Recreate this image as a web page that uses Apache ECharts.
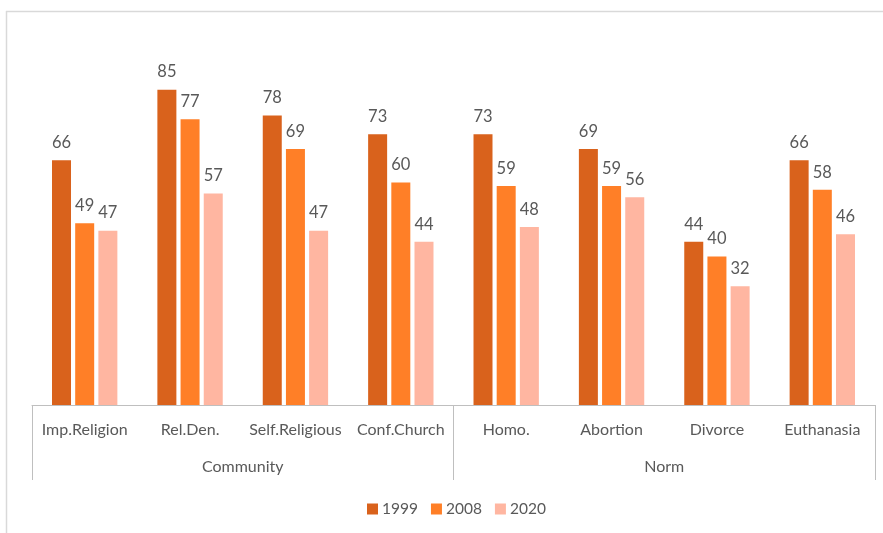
<!DOCTYPE html>
<html>
<head>
<meta charset="utf-8">
<script src="https://cdn.jsdelivr.net/npm/echarts@6/dist/echarts.min.js"></script>
<style>
  html, body { margin: 0; padding: 0; background: #fff; }
  #chart { width: 883px; height: 533px; }
</style>
</head>
<body>
<div id="chart"></div>
<script>
// Item labels (inner axis level) and their groups (outer axis level)
const categories = ['Imp.Religion', 'Rel.Den.', 'Self.Religious', 'Conf.Church', 'Homo.', 'Abortion', 'Divorce', 'Euthanasia'];
const groups = ['Community', 'Norm'];

// Percentages by survey year
const years = ['1999', '2008', '2020'];
const values1999 = [66, 85, 78, 73, 73, 69, 44, 66];
const values2008 = [49, 77, 69, 60, 59, 59, 40, 58];
const values2020 = [47, 57, 47, 44, 48, 56, 32, 46];

const colors = ['#D9621C', '#FF7F27', '#FFB6A1'];
const textColor = '#595959';
const fontFamily = 'Lato, "Open Sans", sans-serif';

const chart = echarts.init(document.getElementById('chart'), null, { renderer: 'canvas' });

const seriesData = [values1999, values2008, values2020];

chart.setOption({
  animation: false,
  grid: { left: 32, right: 8, top: 34, bottom: 128, containLabel: false },
  graphic: [
    { type: 'line', shape: { x1: 6, y1: 11.5, x2: 883, y2: 11.5 }, style: { stroke: '#d9d9d9', lineWidth: 1.5 } },
    { type: 'line', shape: { x1: 6.5, y1: 11, x2: 6.5, y2: 533 }, style: { stroke: '#d9d9d9', lineWidth: 1.5 } }
  ],
  legend: {
    data: years,
    bottom: 11,
    left: 362,
    itemWidth: 11,
    itemHeight: 11,
    itemGap: 13,
    icon: 'rect',
    textStyle: { color: textColor, fontSize: 15.5, fontFamily: fontFamily, padding: [0, 0, 0, -1] }
  },
  xAxis: [
    {
      type: 'category',
      data: categories,
      position: 'bottom',
      axisLine: { show: true, lineStyle: { color: '#bfbfbf', width: 1 } },
      axisTick: { show: false },
      axisLabel: { color: textColor, fontSize: 16, fontFamily: fontFamily, margin: 17, interval: 0 }
    },
    {
      type: 'category',
      data: groups,
      position: 'bottom',
      axisLine: { show: false },
      axisTick: { show: true, length: 75, lineStyle: { color: '#bfbfbf', width: 1 } },
      axisLabel: { color: textColor, fontSize: 16, fontFamily: fontFamily, margin: 54 }
    }
  ],
  yAxis: {
    type: 'value',
    min: 0,
    max: 100,
    show: false
  },
  series: years.map((y, i) => ({
    name: y,
    type: 'bar',
    xAxisIndex: 0,
    data: seriesData[i],
    barWidth: 19,
    barGap: '22%',
    itemStyle: { color: colors[i] },
    label: {
      show: true,
      position: 'top',
      distance: 9,
      color: textColor,
      fontSize: 16.5,
      fontFamily: fontFamily
    }
  }))
});
</script>
</body>
</html>
